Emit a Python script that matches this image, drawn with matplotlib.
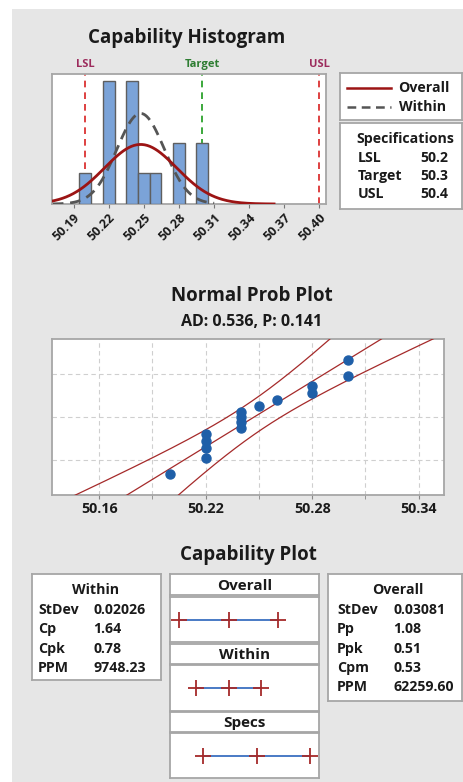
import numpy as np
import matplotlib
matplotlib.use("Agg")
import matplotlib.pyplot as plt
from matplotlib.patches import Rectangle
from matplotlib.lines import Line2D
from statistics import NormalDist

plt.rcParams['font.family'] = ['Open Sans', 'DejaVu Sans']
plt.rcParams['font.weight'] = 'bold'

# ---------------- data ----------------
values = [50.20, 50.22, 50.24, 50.25, 50.26, 50.28, 50.30]
counts = [1, 4, 4, 1, 1, 2, 2]
bin_width = 0.01
LSL, TARGET, USL = 50.2, 50.3, 50.4
sd_within = 0.02026
sd_overall = 0.03081
hist_ticks = [50.19, 50.22, 50.25, 50.28, 50.31, 50.34, 50.37, 50.40]
prob_ticks = [50.16, 50.22, 50.28, 50.34]
prob_grid = [50.19, 50.25, 50.31]
prob_pct = [0.10, 0.50, 0.90]
ad_text = "AD: 0.536, P: 0.141"
spec_names = ["LSL", "Target", "USL"]
spec_vals = ["50.2", "50.3", "50.4"]
within_names = ["StDev", "Cp", "Cpk", "PPM"]
within_vals = ["0.02026", "1.64", "0.78", "9748.23"]
overall_names = ["StDev", "Pp", "Ppk", "Cpm", "PPM"]
overall_vals = ["0.03081", "1.08", "0.51", "0.53", "62259.60"]

# ---------------- layout helpers ----------------
W, H = 463, 782
fig = plt.figure(figsize=(W / 100, H / 100), dpi=100)
fig.patch.set_facecolor('white')
fig.patches.append(Rectangle((12 / W, 0), 1, 1 - 9 / H, transform=fig.transFigure,
                             facecolor='#e6e6e6', edgecolor='none', zorder=-10))

BOX = '#a6a6a6'
TXT = '#1a1a1a'
FS = 10.2
BW = 'bold'


def ax_px(x0, y0, x1, y1):
    a = fig.add_axes([x0 / W, 1 - y1 / H, (x1 - x0) / W, (y1 - y0) / H])
    for s in a.spines.values():
        s.set_color(BOX)
        s.set_linewidth(1.3)
    return a


def box_px(x0, y0, x1, y1):
    a = ax_px(x0, y0, x1, y1)
    a.set_xticks([])
    a.set_yticks([])
    a.set_xlim(0, 1)
    a.set_ylim(0, 1)
    a.set_facecolor('white')
    return a


def ftext(x, y, s, **kw):
    kw.setdefault('color', TXT)
    kw.setdefault('va', 'center')
    kw.setdefault('fontweight', BW)
    fig.text(x / W, 1 - y / H, s, **kw)


data = np.repeat(values, counts)
n = len(data)
mean = data.mean()

# ---------------- Capability Histogram ----------------
ftext(187, 38, "Capability Histogram", ha='center', fontsize=13.5)
ax = ax_px(52, 74, 326, 204)
ax.bar(values, counts, width=bin_width, color='#7ba3d8', edgecolor='#5f5f5f', lw=1.0, zorder=3)
xs = np.linspace(mean - 3.7 * sd_overall, mean + 3.7 * sd_overall, 300)
pdf_o = n * bin_width * np.exp(-0.5 * ((xs - mean) / sd_overall) ** 2) / (sd_overall * np.sqrt(2 * np.pi))
xw = np.linspace(mean - 3.7 * sd_within, mean + 3.1 * sd_within, 300)
pdf_w = n * bin_width * np.exp(-0.5 * ((xw - mean) / sd_within) ** 2) / (sd_within * np.sqrt(2 * np.pi))
ax.plot(xw, pdf_w, color='#555555', lw=2.0, ls=(0, (3.8, 2.4)), zorder=4)
ax.plot(xs, pdf_o, color='#9c1414', lw=2.0, zorder=5)
for v, c, lab, lc in [(LSL, '#d82020', 'LSL', '#9c2b5c'), (TARGET, '#1a9a1a', 'Target', '#2e7d32'),
                      (USL, '#d82020', 'USL', '#9c2b5c')]:
    ax.axvline(v, color=c, ls=(0, (4, 3)), lw=1.2, zorder=1)
    ax.text(v, 1.03, lab, transform=ax.get_xaxis_transform(), ha='center', va='bottom',
            color=lc, fontsize=8, fontweight=BW)
ax.set_xlim(50.1716, 50.4057)
ax.set_ylim(0, 4.24)
ax.set_yticks([])
ax.set_xticks(hist_ticks)
ax.set_xticklabels([f"{t:.2f}" for t in hist_ticks], rotation=45, ha='right',
                   rotation_mode='anchor', fontsize=9, color=TXT, fontweight=BW)
ax.tick_params(axis='x', length=3, color='#777777', pad=2)

# legend box
lg = box_px(340, 73, 462, 120)
lg.add_line(Line2D([0.06, 0.42], [0.68, 0.68], color='#9c1414', lw=1.8))
lg.add_line(Line2D([0.06, 0.42], [0.28, 0.28], color='#555555', lw=1.8, ls=(0, (3.5, 2.2))))
lg.text(0.48, 0.68, "Overall", va='center', fontsize=FS, fontweight=BW, color=TXT)
lg.text(0.48, 0.28, "Within", va='center', fontsize=FS, fontweight=BW, color=TXT)

# specifications box
sp = box_px(340, 123, 462, 209)
ftext(356, 139, "Specifications", ha='left', fontsize=FS)
for i, (nm, vv) in enumerate(zip(spec_names, spec_vals)):
    ftext(358, 158 + i * 18, nm, ha='left', fontsize=FS)
    ftext(420, 158 + i * 18, vv, ha='left', fontsize=FS)

# ---------------- Normal Prob Plot ----------------
ftext(252, 296, "Normal Prob Plot", ha='center', fontsize=13.5)
ftext(252, 322, ad_text, ha='center', fontsize=11.5)
nd = NormalDist()
ranks = np.arange(1, n + 1)
zp = np.array([nd.inv_cdf(p) for p in (ranks - 0.3) / (n + 0.4)])
ap = ax_px(52, 339, 444, 495)
ap.set_facecolor('white')
zz = np.linspace(-3, 3, 300)
mid = mean + zz * sd_overall
sd_ml = sd_overall * np.sqrt((n - 1) / n)
half = 1.96 * sd_ml * np.sqrt(1 / n + zz ** 2 / (2 * n))
for yline in (mid, mid - half, mid + half):
    ap.plot(yline, zz, color='#a52a2a', lw=0.9, zorder=3)
ap.plot(data, zp, 'o', color='#1f5fa8', ms=6.5, zorder=4)
ap.set_xlim(50.1334, 50.3543)
ap.set_ylim(nd.inv_cdf(0.01), nd.inv_cdf(0.99))
ap.set_xticks(prob_ticks)
ap.set_xticks(prob_grid, minor=True)
ap.set_xticklabels([f"{t:.2f}" for t in prob_ticks], fontsize=10.3, color=TXT, fontweight=BW)
ap.set_yticks([nd.inv_cdf(p) for p in prob_pct])
ap.set_yticklabels([])
ap.tick_params(axis='y', length=0)
ap.tick_params(axis='x', which='both', length=3, color='#888888', pad=2)
ap.grid(True, which='both', color='#cfcfcf', ls=(0, (4, 3)), lw=0.8, zorder=0)
ap.set_axisbelow(True)

# ---------------- Capability Plot ----------------
ftext(248, 555, "Capability Plot", ha='center', fontsize=13.5)

wb = box_px(32, 574, 161, 680)
ftext(96, 590, "Within", ha='center', fontsize=FS)
for i, (nm, vv) in enumerate(zip(within_names, within_vals)):
    ftext(38, 610 + i * 19.3, nm, ha='left', fontsize=FS)
    ftext(93, 610 + i * 19.3, vv, ha='left', fontsize=FS)

ob = box_px(328, 574, 462, 701)
ftext(398, 590, "Overall", ha='center', fontsize=FS)
for i, (nm, vv) in enumerate(zip(overall_names, overall_vals)):
    ftext(337, 610 + i * 19.3, nm, ha='left', fontsize=FS)
    ftext(393, 610 + i * 19.3, vv, ha='left', fontsize=FS)

intervals = [("Overall", (mean - 3 * sd_overall, mean, mean + 3 * sd_overall)),
             ("Within", (mean - 3 * sd_within, mean, mean + 3 * sd_within)),
             ("Specs", (LSL, TARGET, USL))]
panels = [(574, 595, 597, 642), (644, 664, 665, 711), (712, 732, 733, 778)]
for (title, pts), (h0, h1, b0, b1) in zip(intervals, panels):
    hb = box_px(170, h0, 319, h1)
    hb.text(0.5, 0.45, title, ha='center', va='center', fontsize=11, fontweight=BW, color=TXT)
    bb = ax_px(170, b0, 319, b1)
    bb.set_facecolor('white')
    bb.set_xticks([])
    bb.set_yticks([])
    bb.set_xlim(50.138, 50.416)
    bb.set_ylim(-1, 1)
    bb.plot([pts[0], pts[2]], [0, 0], color='#3a6fc0', lw=1.3, zorder=2)
    bb.plot(pts, [0, 0, 0], '+', color='#a52a2a', ms=11, mew=1.3, zorder=3)

fig.savefig("out.png", dpi=100, facecolor=fig.get_facecolor())
